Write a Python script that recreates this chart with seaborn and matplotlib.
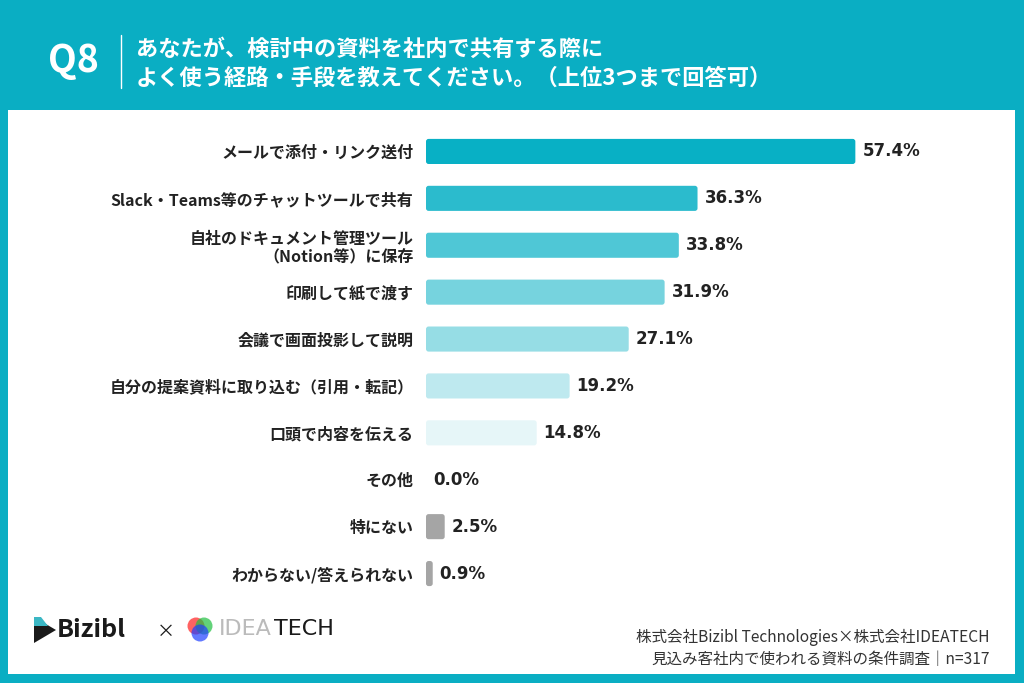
import numpy as np
import pandas as pd
import matplotlib
matplotlib.use('Agg')
import matplotlib.pyplot as plt
import matplotlib.patches as mpatches
import seaborn as sns

sns.set_style('white')
plt.rcParams['font.family'] = ['Noto Sans CJK JP', 'DejaVu Sans']

# data
categories = [
    'メールで添付・リンク送付',
    'Slack・Teams等のチャットツールで共有',
    '自社のドキュメント管理ツール\n（Notion等）に保存',
    '印刷して紙で渡す',
    '会議で画面投影して説明',
    '自分の提案資料に取り込む（引用・転記）',
    '口頭で内容を伝える',
    'その他',
    '特にない',
    'わからない/答えられない',
]
values = [57.4, 36.3, 33.8, 31.9, 27.1, 19.2, 14.8, 0.0, 2.5, 0.9]
bar_colors = ['#08B0C5', '#2BBBCD', '#4FC7D6', '#76D3DE', '#96DDE5',
              '#BEE9EF', '#E6F6F8', '#A5A5A5', '#A5A5A5', '#A5A5A5']

title_q = 'Q8'
title_lines = ['あなたが、検討中の資料を社内で共有する際に',
               'よく使う経路・手段を教えてください。（上位3つまで回答可）']
source_lines = ['株式会社Bizibl Technologies×株式会社IDEATECH',
                '見込み客社内で使われる資料の条件調査｜n=317']

teal = '#0AAEC3'

df = pd.DataFrame({'category': categories, 'value': values})

fig = plt.figure(figsize=(10.24, 6.83), dpi=100)
fig.patch.set_facecolor(teal)

W, H = 1024, 683
# white panel
panel = mpatches.Rectangle((8 / W, 1 - 674 / H), (1015 - 8) / W, (674 - 110) / H,
                           transform=fig.transFigure, facecolor='white',
                           edgecolor='none', zorder=-5)
fig.patches.append(panel)

# header
fig.text(73 / W, 1 - 61 / H, title_q, color='white', fontsize=27,
         fontweight='bold', ha='center', va='center')
fig.add_artist(plt.Line2D([121 / W, 121 / W], [1 - 35 / H, 1 - 88 / H],
                          transform=fig.transFigure, color='white', lw=1))
fig.text(136 / W, 1 - 49 / H, title_lines[0], color='white', fontsize=16,
         fontweight='bold', ha='left', va='center')
fig.text(136 / W, 1 - 78 / H, title_lines[1], color='white', fontsize=16,
         fontweight='bold', ha='left', va='center')

# chart
ax = fig.add_axes([426 / W, (683 - 597) / H, 580 / W, 469 / H])
ax.set_zorder(2)
ax.set_facecolor('none')
sns.barplot(data=df, x='value', y='category', hue='category',
            palette=dict(zip(categories, bar_colors)), legend=False,
            width=0.535, saturation=1, ax=ax)
ax.set_xlim(0, 580 / 7.48)

# soften the bar corners a little
for p in list(ax.patches):
    x0, y0, w, h = p.get_x(), p.get_y(), p.get_width(), p.get_height()
    if w <= 0:
        p.remove()
        continue
    rb = mpatches.FancyBboxPatch((x0, y0), w, h,
                                 boxstyle='round,pad=0,rounding_size=0.35',
                                 mutation_aspect=0.16,
                                 facecolor=p.get_facecolor(), edgecolor='none')
    p.remove()
    ax.add_patch(rb)

ax.set_xlabel('')
ax.set_ylabel('')
ax.set_xticks([])
for s in ax.spines.values():
    s.set_visible(False)
ax.tick_params(axis='y', length=0, pad=9)
for lab in ax.get_yticklabels():
    lab.set_fontweight('bold')
    lab.set_fontsize(11.5)
    lab.set_color('#222222')
    lab.set_linespacing(1.15)

for i, v in enumerate(values):
    ax.annotate(f'{v:.1f}%', xy=(v, i), xytext=(5, 0), textcoords='offset points',
                ha='left', va='center', fontsize=12, fontweight='bold',
                color='#222222', family=['DejaVu Sans'])

# footer logos
fig.add_artist(mpatches.Polygon(
    [(34 / W, 1 - 617 / H), (34 / W, 1 - 643 / H), (56 / W, 1 - 630 / H)],
    closed=True, transform=fig.transFigure, facecolor='#1A1A1A', edgecolor='none'))
fig.add_artist(mpatches.Polygon(
    [(34 / W, 1 - 617 / H), (41 / W, 1 - 617 / H), (48 / W, 1 - 626 / H), (34 / W, 1 - 626 / H)],
    closed=True, transform=fig.transFigure, facecolor='#3BB7C4', edgecolor='none'))
fig.text(57 / W, 1 - 630 / H, 'Bizibl', fontsize=18, fontweight='bold',
         color='#1A1A1A', ha='left', va='center')
fig.text(166 / W, 1 - 632 / H, '×', fontsize=13, color='#1A1A1A',
         ha='center', va='center')
for dx, dy, c in [(-4, -3, '#FF2020'), (4, -3, '#20C040'), (0, 4, '#2040FF')]:
    fig.add_artist(mpatches.Ellipse(((200 + dx) / W, 1 - (629 + dy) / H), 17 / W, 17 / H,
                                    transform=fig.transFigure, facecolor=c,
                                    edgecolor='none', alpha=0.7))
fig.text(219 / W, 1 - 629 / H, 'IDEA', fontsize=16, color='#BBBBBB',
         ha='left', va='center', family=['DejaVu Sans'])
fig.text(274 / W, 1 - 629 / H, 'TECH', fontsize=16, color='#1A1A1A',
         ha='left', va='center', family=['DejaVu Sans'])

fig.text(990 / W, 1 - 637 / H, source_lines[0], fontsize=11.2, color='#333333',
         ha='right', va='center')
fig.text(990 / W, 1 - 659 / H, source_lines[1], fontsize=11.2, color='#333333',
         ha='right', va='center')

fig.savefig('out.png', dpi=100, facecolor=fig.get_facecolor())
